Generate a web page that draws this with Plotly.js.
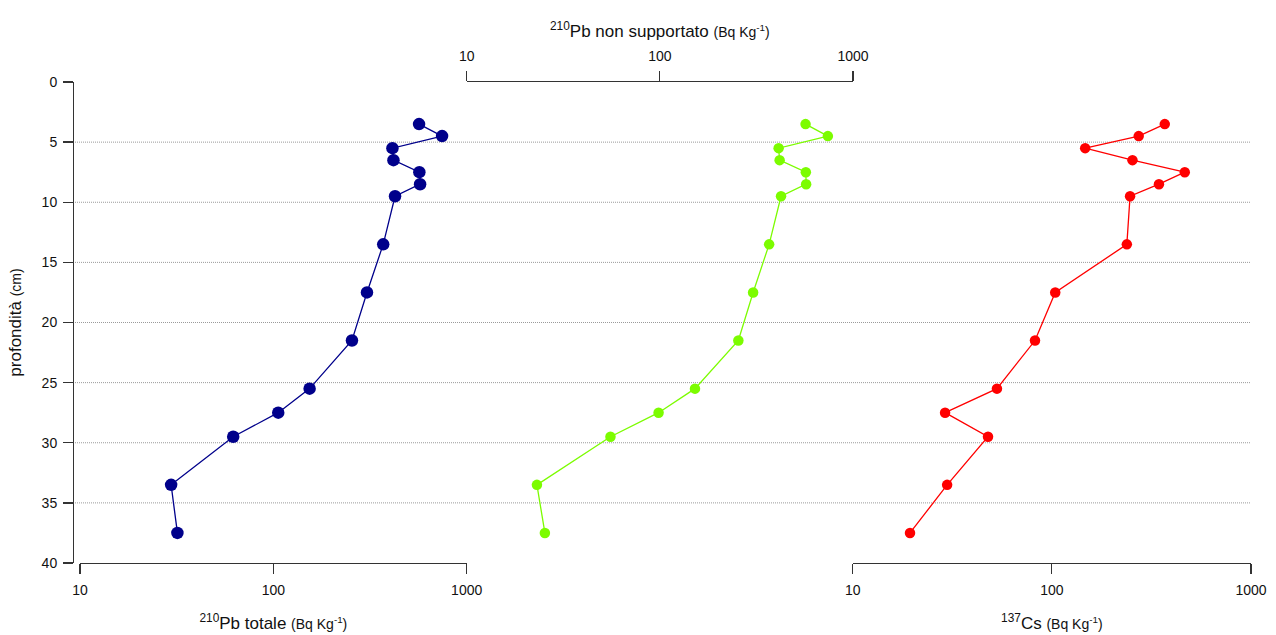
<!DOCTYPE html>
<html>
<head>
<meta charset="utf-8">
<script src="https://cdn.plot.ly/plotly-3.0.1.min.js"></script>
<style>
  html, body { margin: 0; padding: 0; background: #fff; }
  #chart { width: 1276px; height: 635px; }
</style>
</head>
<body>
<div id="chart"></div>
<script>
// Sample depths (cm) and activities (Bq/kg)
const depth = [3.5, 4.5, 5.5, 6.5, 7.5, 8.5, 9.5, 13.5, 17.5, 21.5, 25.5, 27.5, 29.5, 33.5, 37.5];
const pbTotal = [567, 746, 413, 418, 569, 574, 426, 370, 305, 255, 154, 106, 62, 29.6, 31.9];
const pbUnsupported = [568, 741, 412, 417, 570, 572, 424, 368, 304, 255, 152, 98.5, 55.5, 23.1, 25.4];
const cs137 = [369, 273, 147, 254, 465, 345, 247, 238, 104, 82.3, 53, 29.1, 47.8, 29.8, 19.4];

const depthTicks = [0, 5, 10, 15, 20, 25, 30, 35, 40];
const gridDepths = [5, 10, 15, 20, 25, 30, 35];
const activityTicks = [10, 100, 1000];
const activityLabels = ['10', '100', '1000'];

const W = 1276, H = 635;
const px = v => v / W;
const py = v => 1 - v / H;

const FONT = 'Liberation Sans, Arial, sans-serif';
const AXIS_COLOR = '#333333';

function logAxis(domain, side, titleHtml, standoff) {
  return {
    type: 'log',
    range: [1, 3],
    domain: domain,
    anchor: 'y',
    side: side,
    tickmode: 'array',
    tickvals: activityTicks,
    ticktext: activityLabels,
    ticks: 'outside',
    ticklen: 10,
    tickwidth: 1.3,
    tickcolor: AXIS_COLOR,
    ticklabelstandoff: 4,
    showline: true,
    linecolor: AXIS_COLOR,
    linewidth: 1.3,
    showgrid: false,
    zeroline: false,
    fixedrange: true,
    tickfont: { family: FONT, size: 14, color: '#111' },
    title: { text: titleHtml, font: { family: FONT, size: 17, color: '#111' }, standoff: standoff },
    automargin: false
  };
}

const unit = '<span style="font-size:14px">(Bq Kg<sup>-1</sup>)</span>';

function series(x, xaxis, color, size) {
  return {
    x: x,
    y: depth,
    xaxis: xaxis,
    yaxis: 'y',
    type: 'scatter',
    mode: 'lines+markers',
    line: { color: color, width: 1.3 },
    marker: { color: color, size: size },
    cliponaxis: false,
    hoverinfo: 'x+y',
    showlegend: false
  };
}

const traces = [
  series(pbTotal, 'x', '#00008B', 12.5),
  series(pbUnsupported, 'x2', '#7CFC00', 10.5),
  series(cs137, 'x3', '#FF0000', 10.5)
];

const gridShapes = gridDepths.map(d => ({
  type: 'line',
  xref: 'paper', yref: 'y',
  x0: px(73), x1: px(1250),
  y0: d, y1: d,
  line: { color: '#9a9a9a', width: 1, dash: '1px,1px' },
  layer: 'below'
}));

const layout = {
  width: W,
  height: H,
  margin: { l: 0, r: 0, t: 0, b: 0, pad: 0 },
  paper_bgcolor: '#ffffff',
  plot_bgcolor: 'rgba(0,0,0,0)',
  font: { family: FONT, color: '#111' },
  showlegend: false,
  xaxis: logAxis([px(80), px(466.7)], 'bottom', '<sup>210</sup>Pb totale ' + unit, 20),
  xaxis2: logAxis([px(466.7), px(853)], 'top', '<sup>210</sup>Pb non supportato ' + unit, 6),
  xaxis3: logAxis([px(852.7), px(1251)], 'bottom', '<sup>137</sup>Cs ' + unit, 20),
  yaxis: {
    range: [40, 0],
    domain: [py(563), py(82)],
    anchor: 'free',
    position: px(73),
    side: 'left',
    tickmode: 'array',
    tickvals: depthTicks,
    ticks: 'outside',
    ticklen: 10,
    tickwidth: 1.3,
    tickcolor: AXIS_COLOR,
    ticklabelstandoff: 3,
    showline: true,
    linecolor: AXIS_COLOR,
    linewidth: 1.3,
    showgrid: false,
    zeroline: false,
    fixedrange: true,
    tickfont: { family: FONT, size: 14, color: '#111' },
    title: {
      text: 'profondità <span style="font-size:14px">(cm)</span>',
      font: { family: FONT, size: 17, color: '#111' },
      standoff: 14
    },
    automargin: false
  },
  shapes: gridShapes
};

Plotly.newPlot('chart', traces, layout, { displayModeBar: false, staticPlot: true });
</script>
</body>
</html>
